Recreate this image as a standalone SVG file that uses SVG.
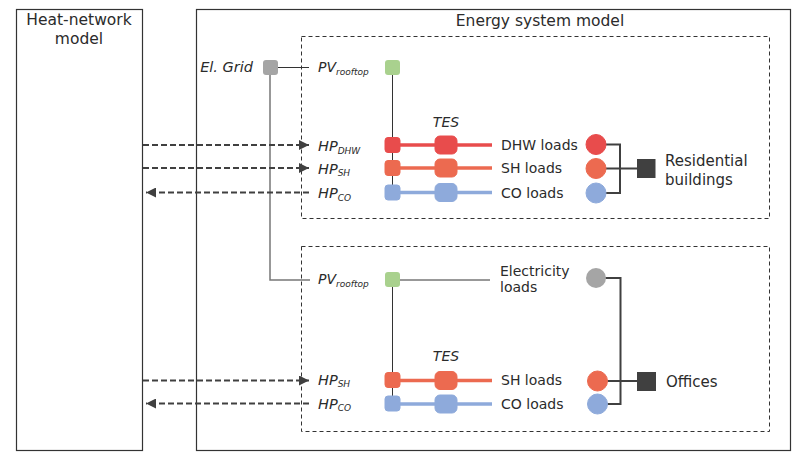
<svg xmlns="http://www.w3.org/2000/svg" width="806" height="475" viewBox="0 0 806 475">
<style>
text{font-family:"DejaVu Sans","Liberation Sans",sans-serif;fill:#2b2b2b}
.it{font-style:italic}
.box{fill:none;stroke:#333;stroke-width:1.2}
.dbox{fill:none;stroke:#333;stroke-width:1;stroke-dasharray:4,3}
.thin{stroke:#333;stroke-width:1;fill:none}
.grid{stroke:#777;stroke-width:1.5;fill:none}
.brk{stroke:#404040;stroke-width:2;fill:none}
.dash{stroke:#404040;stroke-width:2;stroke-dasharray:6,3;fill:none}
.dhw{stroke:#e84c4c;fill:#e84c4c}
.sh{stroke:#ec6a50;fill:#ec6a50}
.co{stroke:#8eaadb;fill:#8eaadb}
.pipe{stroke-width:3.5;fill:none}
</style>
<defs>
<marker id="ah" viewBox="0 0 10 10" refX="10" refY="5" markerWidth="10" markerHeight="10" markerUnits="userSpaceOnUse" orient="auto-start-reverse">
<path d="M0,0 L10,5 L0,10 z" fill="#404040"/>
</marker>
</defs>
<rect width="806" height="475" fill="#fff"/>

<g id="heat-network">
<rect class="box" x="16.5" y="9.5" width="126" height="441"/>
<text x="79" y="25" font-size="15.5" text-anchor="middle">Heat-network</text>
<text x="79" y="44" font-size="15.5" text-anchor="middle">model</text>
</g>

<g id="energy-system">
<rect class="box" x="196.5" y="9.5" width="594" height="441"/>
<text x="540" y="26" font-size="15.5" text-anchor="middle">Energy system model</text>
</g>

<g id="residential-area"><rect class="dbox" x="301.5" y="36.5" width="468" height="182"/></g>
<g id="offices-area"><rect class="dbox" x="301.5" y="246.5" width="468" height="185"/></g>

<g id="connectors">
<line class="thin" x1="278" y1="67.5" x2="309" y2="67.5"/>
<polyline class="grid" points="270,75 270,280 310,280"/>
<line class="thin" x1="392.5" y1="75" x2="392.5" y2="185"/>
<line class="thin" x1="392.5" y1="287" x2="392.5" y2="396"/>
<line class="thin" x1="400" y1="280" x2="490" y2="280"/>
<line class="pipe dhw" x1="400" y1="145" x2="492" y2="145"/>
<line class="pipe sh" x1="400" y1="168" x2="492" y2="168"/>
<line class="pipe co" x1="400" y1="192.5" x2="492" y2="192.5"/>
<line class="pipe sh" x1="400" y1="380.5" x2="492" y2="380.5"/>
<line class="pipe co" x1="400" y1="404" x2="492" y2="404"/>
<polyline class="brk" points="596,144.5 620,144.5 620,193 596,193"/>
<line class="brk" x1="596" y1="168.5" x2="637" y2="168.5"/>
<polyline class="brk" points="596,278 620.5,278 620.5,404 597,404"/>
<line class="brk" x1="597" y1="381" x2="637" y2="381"/>
<line class="dash" x1="143" y1="145" x2="309" y2="145" marker-end="url(#ah)"/>
<line class="dash" x1="143" y1="168" x2="309" y2="168" marker-end="url(#ah)"/>
<line class="dash" x1="309" y1="192.5" x2="146" y2="192.5" marker-end="url(#ah)"/>
<line class="dash" x1="143" y1="380.5" x2="309" y2="380.5" marker-end="url(#ah)"/>
<line class="dash" x1="309" y1="403.5" x2="146" y2="403.5" marker-end="url(#ah)"/>
</g>

<g id="el-grid">
<rect x="263" y="60" width="15" height="15" rx="3" fill="#a5a5a5"/>
<text class="it" x="253" y="72" font-size="14.5" text-anchor="end">El. Grid</text>
</g>

<g id="pv-res">
<rect x="385" y="60" width="15" height="15" rx="3" fill="#a9d18e"/>
<text class="it" x="318" y="72" font-size="14">PV<tspan font-size="9" dy="3">rooftop</tspan></text>
</g>

<g id="hp-dhw-res">
<rect class="dhw" x="385" y="137.5" width="15" height="15" rx="3" stroke="none"/>
<text class="it" x="318" y="151" font-size="14.5">HP<tspan font-size="9" dy="2.5">DHW</tspan></text>
</g>
<g id="hp-sh-res">
<rect class="sh" x="385" y="160.5" width="15" height="15" rx="3" stroke="none"/>
<text class="it" x="318" y="173.5" font-size="14.5">HP<tspan font-size="9" dy="2.5">SH</tspan></text>
</g>
<g id="hp-co-res">
<rect class="co" x="385" y="185" width="15" height="15" rx="3" stroke="none"/>
<text class="it" x="318" y="198" font-size="14.5">HP<tspan font-size="9" dy="2.5">CO</tspan></text>
</g>

<g id="tes-res">
<text class="it" x="446" y="127" font-size="14" text-anchor="middle">TES</text>
<rect class="dhw" x="435" y="136" width="22" height="18" rx="5" stroke="none"/>
<rect class="sh" x="435" y="159" width="22" height="18" rx="5" stroke="none"/>
<rect class="co" x="435" y="183.5" width="22" height="18" rx="5" stroke="none"/>
</g>

<g id="loads-res">
<text x="501" y="149.5" font-size="14">DHW loads</text>
<text x="501" y="173" font-size="14">SH loads</text>
<text x="501" y="197.5" font-size="14">CO loads</text>
<circle class="dhw" cx="596" cy="144.5" r="10" stroke="none"/>
<circle class="sh" cx="596" cy="168.5" r="10" stroke="none"/>
<circle class="co" cx="596" cy="193" r="10" stroke="none"/>
</g>

<g id="residential-buildings">
<rect x="637" y="159" width="18.5" height="19" fill="#404040"/>
<text x="665" y="165.5" font-size="15">Residential</text>
<text x="665" y="184.5" font-size="15">buildings</text>
</g>

<g id="pv-off">
<rect x="385" y="272" width="15" height="15" rx="3" fill="#a9d18e"/>
<text class="it" x="318" y="284" font-size="14">PV<tspan font-size="9" dy="2.5">rooftop</tspan></text>
</g>

<g id="electricity-loads">
<text x="500" y="275.5" font-size="14">Electricity</text>
<text x="500" y="292" font-size="14">loads</text>
<circle cx="596" cy="278" r="10" fill="#a5a5a5"/>
</g>

<g id="hp-sh-off">
<rect class="sh" x="385" y="372.5" width="15" height="15" rx="3" stroke="none"/>
<text class="it" x="318" y="384.5" font-size="14.5">HP<tspan font-size="9" dy="2">SH</tspan></text>
</g>
<g id="hp-co-off">
<rect class="co" x="385" y="396" width="15" height="15" rx="3" stroke="none"/>
<text class="it" x="318" y="409" font-size="14.5">HP<tspan font-size="9" dy="2">CO</tspan></text>
</g>

<g id="tes-off">
<text class="it" x="446" y="360.5" font-size="14" text-anchor="middle">TES</text>
<rect class="sh" x="435" y="371.5" width="22" height="18" rx="5" stroke="none"/>
<rect class="co" x="435" y="395" width="22" height="18" rx="5" stroke="none"/>
</g>

<g id="loads-off">
<text x="501" y="384.5" font-size="14">SH loads</text>
<text x="501" y="409" font-size="14">CO loads</text>
<circle class="sh" cx="597.5" cy="381" r="10" stroke="none"/>
<circle class="co" cx="597.5" cy="404" r="10" stroke="none"/>
</g>

<g id="offices">
<rect x="637" y="372" width="19" height="19" fill="#404040"/>
<text x="666" y="387" font-size="15">Offices</text>
</g>
</svg>
